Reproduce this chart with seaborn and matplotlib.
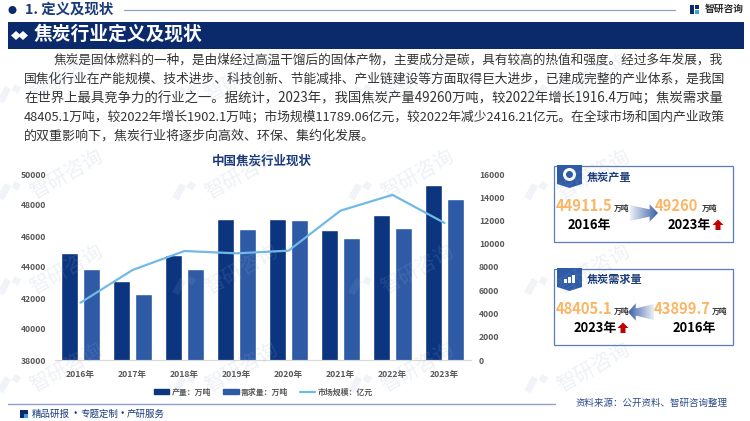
import numpy as np
import pandas as pd
import matplotlib
matplotlib.use("Agg")
import matplotlib.pyplot as plt
import seaborn as sns
from matplotlib.lines import Line2D
from matplotlib.patches import Circle, Patch, Polygon, Rectangle

# =====================================================
# DATA
# =====================================================

years = ["2016年", "2017年", "2018年", "2019年", "2020年", "2021年", "2022年", "2023年"]
output_vals = [44911.5, 43118, 44796, 47075, 47075, 46387, 47343.6, 49260]
demand_vals = [43899.7, 42280, 43850, 46473, 47032, 45892, 46503, 48405.1]
market_vals = [4932, 7742, 9376, 9175, 9405, 12846, 14205.27, 11789.06]

left_ticks = [38000, 40000, 42000, 44000, 46000, 48000, 50000]
right_ticks = [0, 2000, 4000, 6000, 8000, 10000, 12000, 14000, 16000]

body_lines = [
    "焦炭是固体燃料的一种，是由煤经过高温干馏后的固体产物，主要成分是碳，具有较高的热值和强度。经过多年发展，我",
    "国焦化行业在产能规模、技术进步、科技创新、节能减排、产业链建设等方面取得巨大进步，已建成完整的产业体系，是我国",
    "在世界上最具竞争力的行业之一。据统计，2023年，我国焦炭产量49260万吨，较2022年增长1916.4万吨；焦炭需求量",
    "48405.1万吨，较2022年增长1902.1万吨；市场规模11789.06亿元，较2022年减少2416.21亿元。在全球市场和国内产业政策",
    "的双重影响下，焦炭行业将逐步向高效、环保、集约化发展。",
]

NAVY = "#0B2A6B"
DARK_BAR = "#0C3580"
MID_BAR = "#2F5AA6"
LINE_BLUE = "#72B9E6"
ORANGE = "#FBB565"
TICK_GREY = "#595959"

W, H = 750, 421

sns.set_theme(style="white")
plt.rcParams["font.family"] = ["Noto Sans CJK SC", "DejaVu Sans"]

fig = plt.figure(figsize=(W / 100, H / 100), dpi=100)

# =====================================================
# CHART
# =====================================================

ax = fig.add_axes([54.5 / W, 1 - 360 / H, 416 / W, 186 / H])

df = pd.DataFrame({
    "year": years * 2,
    "value": output_vals + demand_vals,
    "kind": ["产量：万吨"] * len(years) + ["需求量：万吨"] * len(years),
})

sns.barplot(
    data=df, x="year", y="value", hue="kind",
    palette=[DARK_BAR, MID_BAR], width=0.85, gap=0.2, saturation=1,
    legend=False, ax=ax,
)
ax.set_ylim(38000, 50000)
ax.set_xlim(-0.5, len(years) - 0.5)
ax.set_yticks(left_ticks)
ax.set_xlabel("")
ax.set_ylabel("")
ax.tick_params(axis="y", length=0, pad=6, labelsize=6.2, labelcolor=TICK_GREY)
ax.tick_params(axis="x", length=0, pad=7, labelsize=6.2, labelcolor=TICK_GREY)
for lab in ax.get_xticklabels() + ax.get_yticklabels():
    lab.set_fontweight("bold")

ax2 = ax.twinx()
sns.lineplot(x=years, y=market_vals, color=LINE_BLUE, linewidth=1.6, sort=False, ax=ax2)
ax2.set_ylim(0, 16000)
ax2.set_yticks(right_ticks)
ax2.set_ylabel("")
ax2.tick_params(axis="y", length=0, pad=6, labelsize=6.2, labelcolor=TICK_GREY)
for lab in ax2.get_yticklabels():
    lab.set_fontweight("bold")

for a in (ax, ax2):
    for side in ("top", "left", "right"):
        a.spines[side].set_visible(False)
    a.spines["bottom"].set_color("#D9D9D9")
    a.spines["bottom"].set_linewidth(0.8)
    a.patch.set_alpha(0)

fig.legend(
    handles=[
        Patch(color=DARK_BAR, label="产量：万吨"),
        Patch(color=MID_BAR, label="需求量：万吨"),
        Line2D([0], [0], color=LINE_BLUE, linewidth=1.6, label="市场规模：亿元"),
    ],
    loc="center", bbox_to_anchor=(263.5 / W, 1 - 392 / H), ncol=3, frameon=False,
    prop={"size": 5.7, "weight": "bold"}, labelcolor=TICK_GREY,
    handlelength=1.95, handleheight=0.6, handletextpad=0.3, columnspacing=1.5,
)

# =====================================================
# PAGE DECORATION (pixel coordinates)
# =====================================================

page = fig.add_axes([0, 0, 1, 1], zorder=10)
page.set_xlim(0, W)
page.set_ylim(H, 0)
page.axis("off")
page.patch.set_alpha(0)


def fit_text(x, y, s, right, size):
    t = page.text(x, y, s, fontsize=size, color="#333333", va="center", ha="left")
    if right is not None:
        rend = fig.canvas.get_renderer()
        for _ in range(3):
            t.set_fontsize(t.get_fontsize() * (right - x) / t.get_window_extent(rend).width)
    return t


def label(x, y, s, size, color="black", weight="bold", ha="left"):
    page.text(x, y, s, fontsize=size, color=color, fontweight=weight, ha=ha, va="center", zorder=5)


def logo(x, y, size, color, alpha=1.0):
    page.add_patch(Rectangle((x, y), size * 0.45, size, color=color, alpha=alpha, lw=0))
    page.add_patch(Rectangle((x + size * 0.55, y), size * 0.45, size * 0.45, color=color, alpha=alpha, lw=0))
    page.add_patch(Rectangle((x + size * 0.55, y + size * 0.55), size * 0.45, size * 0.45, color="#3FA0DC", alpha=alpha, lw=0))


def grad_arrow(x0, x1, y, half):
    # arrow that fades out towards its tail
    tip, tail = x1, x0
    head = tip - (tip - tail) * 0.3
    pts = [(tail, y - half), (head, y - half * 0.45), (head, y - half * 1.1), (tip, y),
           (head, y + half * 1.1), (head, y + half * 0.45), (tail, y + half)]
    left, right = min(x0, x1), max(x0, x1)
    ramp = np.linspace(0.1, 1, 64) if tip > tail else np.linspace(1, 0.1, 64)
    rgba = np.zeros((1, 64, 4))
    rgba[..., :3] = matplotlib.colors.to_rgb("#3A5FA8")
    rgba[..., 3] = ramp
    im = page.imshow(rgba, extent=(left, right, y + half * 1.2, y - half * 1.2),
                     aspect="auto", interpolation="bilinear", zorder=3)
    clip = Polygon(pts, closed=True, transform=page.transData, fc="none", ec="none")
    page.add_patch(clip)
    im.set_clip_path(clip)
    page.set_xlim(0, W)
    page.set_ylim(H, 0)


def red_arrow(x, y):
    pts = [(x, y - 5.5), (x + 5.5, y), (x + 2.5, y), (x + 2.5, y + 5), (x - 2.5, y + 5), (x - 2.5, y), (x - 5.5, y)]
    page.add_patch(Polygon(pts, closed=True, color="#C00000", lw=0, zorder=3))


def pennant(x, y):
    pts = [(x, y), (x + 25, y), (x + 25, y + 19), (x + 12.5, y + 23), (x, y + 19)]
    page.add_patch(Polygon(pts, closed=True, color="#2F5AA6", lw=0))


# top strip
page.add_patch(Circle((12.5, 10), 4, color=NAVY, lw=0))
label(25, 9.5, "1. 定义及现状", 10.4, color="#1A3A7A")
page.plot([124, 675], [9.5, 9.5], color="#8DA0C8", lw=0.9)
logo(690, 5, 9, NAVY)
label(705, 9, "智研咨询", 7, color="#2B2B2B")

# header band
page.add_patch(Rectangle((8, 22), 736, 26.5, color=NAVY, lw=0))
for cx in (16, 23):
    page.add_patch(Polygon([(cx - 5, 35.5), (cx, 31), (cx + 5, 35.5), (cx, 40)], closed=True, color="white", lw=0))
label(34, 34.5, "焦炭行业定义及现状", 13.5, color="white")

# paragraph
for i, line in enumerate(body_lines):
    x = 54 if i == 0 else 24
    right = None if i == len(body_lines) - 1 else 725
    fit_text(x, 60 + 19 * i, line, right, 9.4)

# chart title
label(262, 161, "中国焦炭行业现状", 9, color="#1A3A7A", ha="center")

# footer
page.plot([8, 555], [404, 404], color="#8DA0C8", lw=1.0)
logo(20, 410, 8, NAVY)
label(32, 414.5, "精品研报", 6.8, color="#1A3A7A", weight="normal")
label(75, 414.5, "·", 6.8, color="#1A3A7A", ha="center")
label(80, 414.5, "专题定制", 6.8, color="#1A3A7A", weight="normal")
label(122, 414.5, "·", 6.8, color="#1A3A7A", ha="center")
label(127, 414.5, "产研服务", 6.8, color="#1A3A7A", weight="normal")
label(575, 403, "资料来源：公开资料、智研咨询整理", 6.8, color="#2A4A8A", weight="normal")

# output box
page.add_patch(Rectangle((553.5, 166), 179, 76, fc="white", ec="#5B7DB8", lw=0.9))
pennant(557, 165)
page.add_patch(Circle((569.5, 174.5), 6.5, fc="white", ec="none"))
page.add_patch(Circle((569.5, 174.5), 3.5, fc="#2F5AA6", ec="none"))
label(587, 177, "焦炭产量", 8, color="#1A3A7A")
grad_arrow(630, 658, 213, 8)
label(556, 206, "44911.5", 10.6, color=ORANGE)
label(614, 208, "万吨", 5.6, color="#333333")
label(568, 225, "2016年", 9.3)
label(655, 206, "49260", 10.6, color=ORANGE)
label(702, 208, "万吨", 5.6, color="#333333")
label(668, 225, "2023年", 9.3)
red_arrow(718, 225)

# demand box
page.add_patch(Rectangle((553.5, 269), 179, 75.7, fc="white", ec="#5B7DB8", lw=0.9))
pennant(557, 268)
for dx, hgt in ((564, 4), (568, 6), (572, 8)):
    page.add_patch(Rectangle((dx, 283 - hgt), 2.5, hgt, color="white", lw=0))
label(587, 279, "焦炭需求量", 8, color="#1A3A7A")
grad_arrow(654, 628, 312, 8)
label(556, 309, "48405.1", 10.6, color=ORANGE)
label(614, 311, "万吨", 5.6, color="#333333")
label(574, 328, "2023年", 9.3)
red_arrow(623, 328)
label(654, 309, "43899.7", 10.6, color=ORANGE)
label(712, 311, "万吨", 5.6, color="#333333")
label(673, 328, "2016年", 9.3)

# watermarks
for col_x in (67, 242, 418, 594):
    for row_y in (78, 175, 270, 368):
        page.text(col_x, row_y, "智研咨询", fontsize=14.5, color="#8FAACC", alpha=0.16,
                  rotation=29, ha="center", va="center", zorder=6)
        page.add_patch(Rectangle((col_x - 62, row_y + 8), 7, 16, angle=29, color="#8FAACC", alpha=0.13, lw=0, zorder=6))
        page.add_patch(Rectangle((col_x - 52, row_y + 6), 7, 7, angle=29, color="#8FAACC", alpha=0.13, lw=0, zorder=6))

fig.savefig("out.png", dpi=100)
plt.close(fig)
